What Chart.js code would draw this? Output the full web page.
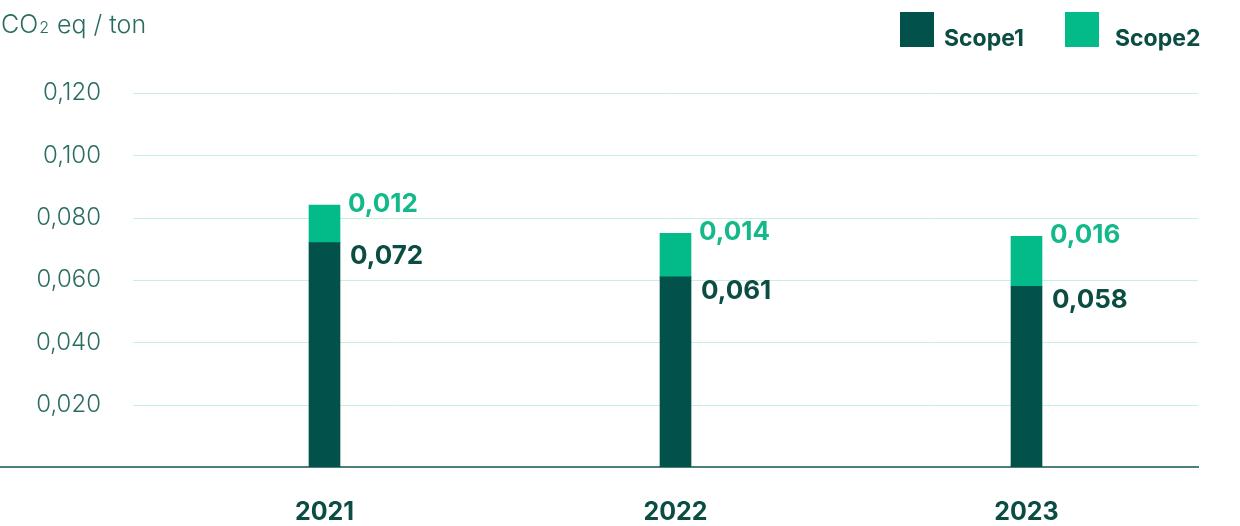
<!DOCTYPE html>
<html>
<head>
<meta charset="utf-8">
<script src="https://cdn.jsdelivr.net/npm/chart.js@4.4.1/dist/chart.umd.min.js"></script>
<style>
  html, body { margin: 0; padding: 0; background: #ffffff; }
  #wrap { position: relative; width: 1240px; height: 526px; }
</style>
</head>
<body>
<div id="wrap"><canvas id="c" width="1240" height="526"></canvas></div>
<script>
// Emission intensity per ton, by year
const years = ['2021', '2022', '2023'];
const scope1 = [0.072, 0.061, 0.058];
const scope2 = [0.012, 0.014, 0.016];
const seriesNames = ['Scope1', 'Scope2'];
const yTicks = [0, 0.02, 0.04, 0.06, 0.08, 0.10, 0.12];

const DARK = '#02514a';
const LIGHT = '#02bb88';
const FONT = 'Inter, "Noto Sans", sans-serif';

const fmt = v => v.toFixed(3).replace('.', ',');

// light horizontal guides, bottom axis line, title, legend and value labels
const decor = {
  id: 'decor',
  beforeDatasetsDraw(chart) {
    const ctx = chart.ctx;
    const y = chart.scales.y;
    ctx.save();
    ctx.strokeStyle = '#c6f1da';
    ctx.lineWidth = 1;
    yTicks.forEach(t => {
      if (t === 0) return;
      const py = Math.round(y.getPixelForValue(t)) + 0.5;
      ctx.beginPath();
      ctx.moveTo(133, py);
      ctx.lineTo(1198, py);
      ctx.stroke();
    });
    ctx.strokeStyle = '#4b7f78';
    ctx.lineWidth = 2;
    const p0 = y.getPixelForValue(0);
    ctx.beginPath();
    ctx.moveTo(0, p0);
    ctx.lineTo(1199, p0);
    ctx.stroke();
    ctx.restore();
  },
  afterDraw(chart) {
    const ctx = chart.ctx;
    ctx.save();
    // unit title: CO2 with a small subscript digit
    ctx.fillStyle = '#2a6c62';
    ctx.textBaseline = 'alphabetic';
    ctx.textAlign = 'left';
    let tx = 1;
    ctx.font = '300 25px ' + FONT;
    ctx.fillText('CO', tx, 33);
    tx += ctx.measureText('CO').width;
    ctx.font = '300 16px ' + FONT;
    ctx.fillText('2', tx + 1, 33);
    tx += ctx.measureText('2').width + 1;
    ctx.font = '300 25px ' + FONT;
    ctx.fillText(' eq / ton', tx + 1, 33);

    // legend
    const legendX = [900, 1065];
    chart.data.datasets.forEach((ds, i) => {
      ctx.fillStyle = ds.backgroundColor;
      ctx.fillRect(legendX[i], 12, 34, 35);
      ctx.fillStyle = '#0b4d43';
      ctx.font = '700 23px ' + FONT;
      ctx.textBaseline = 'alphabetic';
      ctx.fillText(ds.label, legendX[i] + 44 + (i === 1 ? 6 : 0), 46);
    });

    // value labels beside each stacked segment
    ctx.font = '700 26px ' + FONT;
    ctx.textBaseline = 'middle';
    const m0 = chart.getDatasetMeta(0);
    const m1 = chart.getDatasetMeta(1);
    years.forEach((yr, i) => {
      const b0 = m0.data[i];
      const b1 = m1.data[i];
      const right = b0.x + b0.width / 2;
      ctx.fillStyle = '#13b98a';
      ctx.fillText(fmt(scope2[i]), right + 8, b1.y - 1);
      ctx.fillStyle = '#0b4d43';
      ctx.fillText(fmt(scope1[i]), right + 10, b0.y + 14);
    });
    ctx.restore();
  }
};

new Chart(document.getElementById('c'), {
  type: 'bar',
  data: {
    labels: years,
    datasets: [
      { label: seriesNames[0], data: scope1, backgroundColor: DARK, barThickness: 31, stack: 's' },
      { label: seriesNames[1], data: scope2, backgroundColor: LIGHT, barThickness: 31, stack: 's' }
    ]
  },
  options: {
    responsive: false,
    animation: false,
    layout: { padding: { top: 93, right: 38, left: 0, bottom: 0 } },
    plugins: { legend: { display: false }, tooltip: { enabled: false } },
    scales: {
      x: {
        stacked: true,
        grid: { display: false, drawTicks: false },
        border: { display: false },
        ticks: {
          color: '#0b4d43',
          font: { family: FONT, size: 25, weight: '700' },
          padding: 30
        },
        afterFit(s) { s.height = 59; }
      },
      y: {
        stacked: true,
        min: 0,
        max: 0.12,
        grid: { display: false, drawTicks: false },
        border: { display: false },
        afterBuildTicks(s) { s.ticks = yTicks.map(v => ({ value: v })); },
        ticks: {
          color: '#2a6c62',
          font: { family: FONT, size: 24, weight: '300' },
          padding: 48,
          callback: v => (v === 0 ? '' : fmt(v))
        },
        afterFit(s) {
          s.width = 149;
          s.paddingTop = 0;
          s.paddingBottom = 0;
        }
      }
    }
  },
  plugins: [decor]
});
</script>
</body>
</html>
